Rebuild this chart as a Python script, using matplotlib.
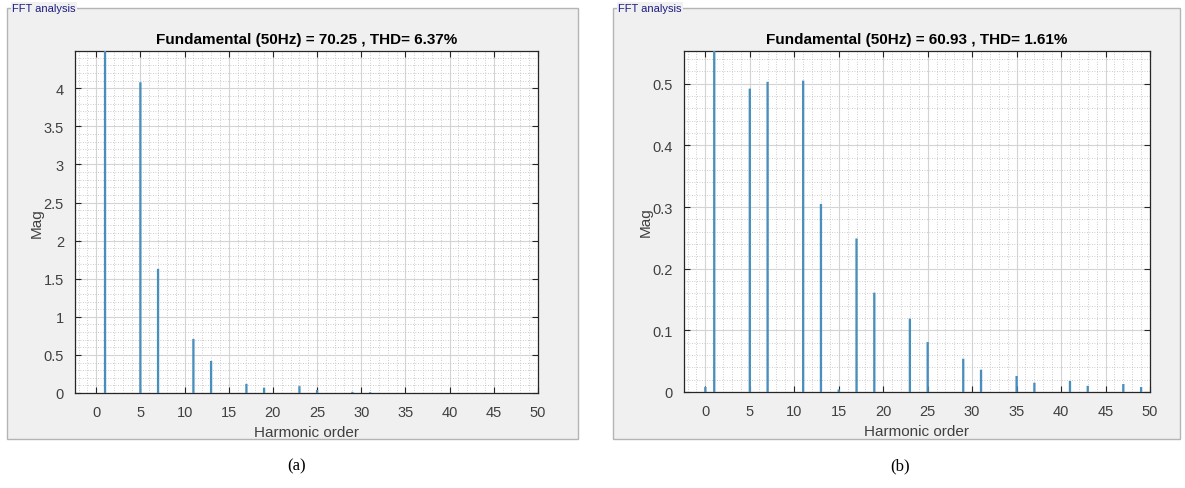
"""Two FFT analysis panels (harmonic spectra) in a MATLAB-like style."""

import matplotlib
matplotlib.use("Agg")
import matplotlib.pyplot as plt
import matplotlib.ticker as mticker
from matplotlib.patches import Rectangle

plt.rcParams["font.family"] = ["Liberation Sans", "DejaVu Sans"]

# ── data ────────────────────────────────────────────────────────────
orders_a = [1, 5, 7, 11, 13, 17, 19, 23, 25, 29, 31]
mag_a = [70.25, 4.08, 1.63, 0.71, 0.42, 0.12, 0.07, 0.09, 0.04, 0.015, 0.01]
title_a = "Fundamental (50Hz) = 70.25 , THD= 6.37%"

orders_b = [0, 1, 5, 7, 11, 13, 15, 17, 19, 23, 25, 29, 31, 35, 37, 41, 43, 47, 49]
mag_b = [0.008, 60.93, 0.492, 0.503, 0.505, 0.305, 0.004, 0.249, 0.161, 0.119,
         0.081, 0.054, 0.036, 0.026, 0.015, 0.018, 0.010, 0.013, 0.008]
title_b = "Fundamental (50Hz) = 60.93 , THD= 1.61%"

W, H = 1185, 489
BG = "#f0f0f0"
BAR = "#4a8fbc"
TXT = "#262626"

fig = plt.figure(figsize=(W / 100, H / 100), dpi=100)
fig.patch.set_facecolor("white")


def px(x0, y0, x1, y1):
    """pixel box (top-left origin) -> figure rect"""
    return [x0 / W, 1 - y1 / H, (x1 - x0) / W, (y1 - y0) / H]


def panel(frame, axbox, orders, mags, title, ylim, ymaj, ymin):
    # gray uipanel with border and caption
    fx0, fy0, fx1, fy1 = frame
    fig.patches.append(Rectangle((fx0 / W, 1 - fy1 / H), (fx1 - fx0) / W, (fy1 - fy0) / H,
                                 transform=fig.transFigure, facecolor=BG,
                                 edgecolor="#b4b4b4", linewidth=1.0, zorder=-5))
    fig.text((fx0 + 5) / W, 1 - fy0 / H, "FFT analysis", fontsize=8, color="#1c1c80",
             ha="left", va="center",
             bbox=dict(boxstyle="square,pad=0.1", facecolor=BG, edgecolor="none"))

    ax = fig.add_axes(px(*axbox))
    ax.set_facecolor("white")
    bars = ax.bar(orders, mags, width=0.26, color=BAR, edgecolor="none", zorder=3)
    for b in bars:
        b.set_snap(False)
    ax.set_xlim(-2.4, 50)
    ax.set_ylim(0, ylim)
    ax.xaxis.set_major_locator(mticker.MultipleLocator(5))
    ax.xaxis.set_minor_locator(mticker.MultipleLocator(1))
    ax.yaxis.set_major_locator(mticker.MultipleLocator(ymaj))
    ax.yaxis.set_minor_locator(mticker.MultipleLocator(ymin))
    ax.yaxis.set_major_formatter(mticker.FuncFormatter(lambda v, p: f"{v:g}"))
    ax.grid(which="major", color="#d4d4d4", linewidth=0.8, zorder=0)
    ax.grid(which="minor", color="#bdbdbd", linestyle=(0, (1, 2)), linewidth=0.6, zorder=0)
    ax.set_axisbelow(True)
    ax.tick_params(which="major", direction="in", length=4.5, width=0.8, top=True, right=True,
                   labelsize=10.5, labelcolor="#404040", color=TXT)
    ax.tick_params(axis="x", which="major", pad=9)
    ax.tick_params(axis="y", which="major", pad=8)
    ax.tick_params(which="minor", length=0)
    for s in ax.spines.values():
        s.set_color(TXT)
        s.set_linewidth(0.9)
    ax.set_title(title, fontsize=11, fontweight="bold", color="black", pad=6)
    ax.set_xlabel("Harmonic order", fontsize=11, color="#404040", labelpad=4)
    ax.set_ylabel("Mag", fontsize=11, color="#404040", labelpad=0)
    return ax


panel((7, 9, 578, 440), (75, 52, 538, 394), orders_a, mag_a, title_a, 4.49, 0.5, 0.1)
panel((613, 9, 1180, 440), (684, 52, 1150, 393), orders_b, mag_b, title_b, 0.553, 0.1, 0.02)

fig.text(297 / W, 1 - 466 / H, "(a)", fontsize=12, ha="center", va="center",
         family=["Liberation Serif", "DejaVu Serif"])
fig.text(900 / W, 1 - 466 / H, "(b)", fontsize=12, ha="center", va="center",
         family=["Liberation Serif", "DejaVu Serif"])

fig.savefig("out.png", dpi=100, facecolor="white")
